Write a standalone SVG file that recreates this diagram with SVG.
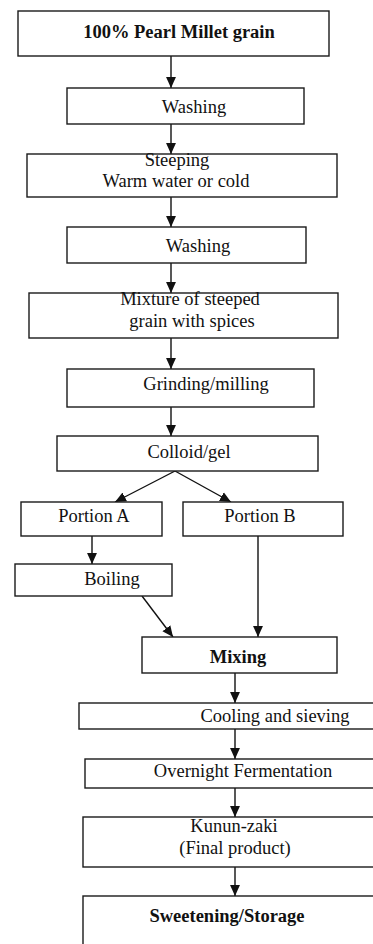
<svg xmlns="http://www.w3.org/2000/svg" width="373" height="944" viewBox="0 0 373 944">
<style>
.box{fill:#fff;stroke:#1a1a1a;stroke-width:1.4}
.t{font-family:'Liberation Serif','Times New Roman','DejaVu Serif',serif;font-size:18.5px;fill:#111;text-anchor:middle}
.b{font-weight:bold}
.c{stroke:#111;stroke-width:1.4;fill:none;marker-end:url(#ah)}
</style>
<defs>
<marker id="ah" markerUnits="userSpaceOnUse" markerWidth="11" markerHeight="11" viewBox="0 0 10 10" refX="10" refY="5" orient="auto">
<path d="M0,0.5 L10,5 L0,9.5 Z" fill="#111"/>
</marker>
</defs>
<rect width="373" height="944" fill="#fff"/>
<g id="connectors">
<line class="c" x1="171" y1="56" x2="171" y2="88"/>
<line class="c" x1="171" y1="124" x2="171" y2="154"/>
<line class="c" x1="171" y1="197" x2="171" y2="227"/>
<line class="c" x1="171" y1="263" x2="171" y2="293"/>
<line class="c" x1="171" y1="338" x2="171" y2="369"/>
<line class="c" x1="171" y1="407" x2="171" y2="436"/>
<line class="c" x1="175" y1="471" x2="115" y2="502"/>
<line class="c" x1="175" y1="471" x2="231" y2="502"/>
<line class="c" x1="92" y1="536" x2="92" y2="564"/>
<line class="c" x1="142" y1="596" x2="173" y2="637"/>
<line class="c" x1="258" y1="536" x2="258" y2="637"/>
<line class="c" x1="235" y1="673" x2="235" y2="703"/>
<line class="c" x1="235" y1="729" x2="235" y2="759"/>
<line class="c" x1="235" y1="788" x2="235" y2="817"/>
<line class="c" x1="235" y1="867" x2="235" y2="896"/>
</g>
<g id="n1"><rect class="box" x="18" y="11" width="311" height="45"/><text class="t b" x="179" y="38">100% Pearl Millet grain</text></g>
<g id="n2"><rect class="box" x="67" y="88" width="237" height="36"/><text class="t" x="194" y="113">Washing</text></g>
<g id="n3"><rect class="box" x="27" y="154" width="310" height="43"/><text class="t" x="177" y="166">Steeping</text><text class="t" x="176" y="187">Warm water or cold</text></g>
<g id="n4"><rect class="box" x="67" y="227" width="239" height="36"/><text class="t" x="198" y="252">Washing</text></g>
<g id="n5"><rect class="box" x="29" y="293" width="309" height="45"/><text class="t" x="190" y="305">Mixture of steeped</text><text class="t" x="192" y="327">grain with spices</text></g>
<g id="n6"><rect class="box" x="67" y="369" width="247" height="38"/><text class="t" x="206" y="390">Grinding/milling</text></g>
<g id="n7"><rect class="box" x="57" y="436" width="261" height="35"/><text class="t" x="189" y="458">Colloid/gel</text></g>
<g id="n8"><rect class="box" x="21" y="502" width="141" height="34"/><text class="t" x="94" y="522">Portion A</text></g>
<g id="n9"><rect class="box" x="183" y="502" width="160" height="34"/><text class="t" x="260" y="522">Portion B</text></g>
<g id="n10"><rect class="box" x="15" y="564" width="157" height="32"/><text class="t" x="112" y="585">Boiling</text></g>
<g id="n11"><rect class="box" x="142" y="637" width="195" height="36"/><text class="t b" x="238" y="663">Mixing</text></g>
<g id="n12"><rect class="box" x="79" y="703" width="310" height="26"/><text class="t" x="275" y="722">Cooling and sieving</text></g>
<g id="n13"><rect class="box" x="85" y="759" width="304" height="29"/><text class="t" x="243" y="777">Overnight Fermentation</text></g>
<g id="n14"><rect class="box" x="83" y="817" width="306" height="50"/><text class="t" x="234" y="832">Kunun-zaki</text><text class="t" x="235" y="854">(Final product)</text></g>
<g id="n15"><rect class="box" x="83" y="896" width="306" height="60"/><text class="t b" x="227" y="922">Sweetening/Storage</text></g>
</svg>
